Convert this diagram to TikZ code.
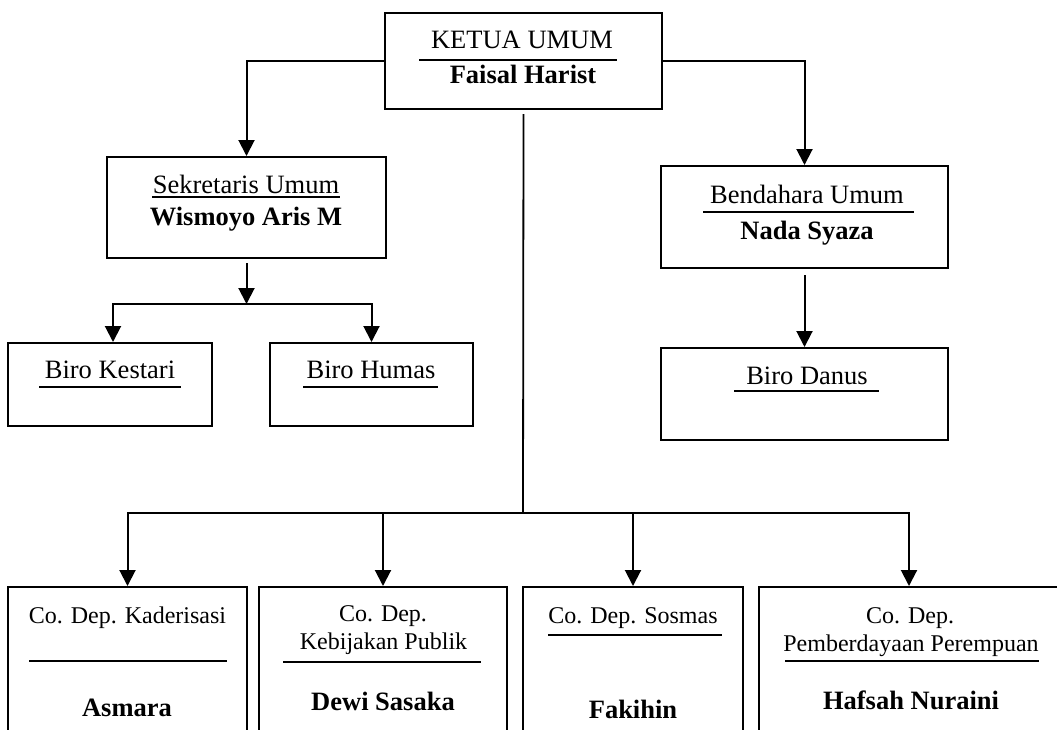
\documentclass[tikz,border=0pt]{standalone}
\usepackage{fontspec}
\setmainfont{Liberation Serif}
\usepackage{tikz}
\usetikzlibrary{positioning,calc}
\usetikzlibrary{arrows.meta}
\tikzset{
	box/.style={draw,line width=2pt,rectangle,anchor=center,inner sep=0pt},
	title/.style={anchor=base,inner sep=0pt,font=\fontsize{26.5}{30}\selectfont},
	person/.style={anchor=base,inner sep=0pt,font=\fontsize{26.5}{30}\selectfont\bfseries},
	deptitle/.style={anchor=base,inner sep=0pt,font=\fontsize{24}{28}\selectfont},
	rule/.style={draw,line width=1.6pt},
	line/.style={draw,line width=1.8pt},
	arr/.style={draw,line width=2pt,-{Triangle[width=16pt,length=16pt]}},
}

\begin{document}
\begin{tikzpicture}[x=1pt,y=-1pt]
	\useasboundingbox (0,0) rectangle (1057,729);
	\clip (0,0) rectangle (1057,729);
	
	% Ketua Umum
	\node[box,minimum width=277pt,minimum height=96pt] (ketua) at (523.5,61) {};
	\node[title] (ketuaT) at (522,48) {KETUA UMUM};
	\draw[rule] (419,60) -- (617,60);
	\node[person] (ketuaN) at (523,83) {Faisal Harist};
	
	% Sekretaris Umum
	\node[box,minimum width=279pt,minimum height=101pt] (sekre) at (246.5,207.5) {};
	\node[title] (sekreT) at (246,193) {Sekretaris Umum};
	\draw[rule] (152,197) -- (340,197);
	\node[person] (sekreN) at (246,225) {Wismoyo Aris M};
	
	% Bendahara Umum
	\node[box,minimum width=287pt,minimum height=102pt] (benda) at (804.5,217) {};
	\node[title] (bendaT) at (807,203) {Bendahara Umum};
	\draw[rule] (703,212) -- (914,212);
	\node[person] (bendaN) at (807,239) {Nada Syaza};
	
	% Biro
	\node[box,minimum width=204pt,minimum height=83pt] (kestari) at (110,384.5) {};
	\node[title] (kestariT) at (110,378) {Biro Kestari};
	\draw[rule] (39,387) -- (181,387);
	
	\node[box,minimum width=203pt,minimum height=83pt] (humas) at (371.5,384.5) {};
	\node[title] (humasT) at (371,378) {Biro Humas};
	\draw[rule] (303,387) -- (438,387);
	
	\node[box,minimum width=287pt,minimum height=92pt] (danus) at (804.5,394) {};
	\node[title] (danusT) at (807,384) {Biro Danus};
	\draw[rule] (734,391) -- (879,391);
	
	% Departemen
	\node[box,minimum width=239pt,minimum height=200pt] (kader) at (127.5,687) {};
	\node[deptitle] (kaderT) at (127.5,623) {Co. Dep. Kaderisasi};
	\draw[rule] (29,661) -- (227,661);
	\node[person] (kaderN) at (127,716) {Asmara};
	
	\node[box,minimum width=248pt,minimum height=200pt] (kebijakan) at (383,687) {};
	\node[deptitle] (kebijakanT) at (383,621) {Co. Dep.};
	\node[deptitle] (kebijakanU) at (383.5,649) {Kebijakan Publik};
	\draw[rule] (283,662) -- (481,662);
	\node[person] (kebijakanN) at (383,710) {Dewi Sasaka};
	
	\node[box,minimum width=220pt,minimum height=200pt] (sosmas) at (633,687) {};
	\node[deptitle] (sosmasT) at (633,623) {Co. Dep. Sosmas};
	\draw[rule] (548,635) -- (722,635);
	\node[person] (sosmasN) at (633,718) {Fakihin};
	
	\node[box,minimum width=300pt,minimum height=200pt] (perempuan) at (909,687) {};
	\node[deptitle] (perempuanT) at (910,623) {Co. Dep.};
	\node[deptitle] (perempuanU) at (911,651) {Pemberdayaan Perempuan};
	\draw[rule] (785,661) -- (1039,661);
	\node[person] (perempuanN) at (911,709) {Hafsah Nuraini};
	
	% Draw connections
	\coordinate (bus) at (523,513);
	\coordinate (sjunc) at (246.5,304);
	\draw[line] ([yshift=-4pt]ketua.south) -- (bus);
	\draw[arr] (ketua.west) -| (sekre.north);
	\draw[arr] (ketua.east) -| (benda.north);
	\draw[arr] ([yshift=-4pt]sekre.south) -- (sjunc);
	\draw[arr] (sjunc) -| ([xshift=3pt]kestari.north);
	\draw[arr] (sjunc) -| (humas.north);
	\draw[arr] ([yshift=-6pt]benda.south) -- (danus.north);
	\draw[arr] (bus) -| (kader.north);
	\draw[arr] (bus) -| (kebijakan.north);
	\draw[arr] (bus) -| (sosmas.north);
	\draw[arr] (bus) -| (perempuan.north);
	
\end{tikzpicture}
\end{document}
